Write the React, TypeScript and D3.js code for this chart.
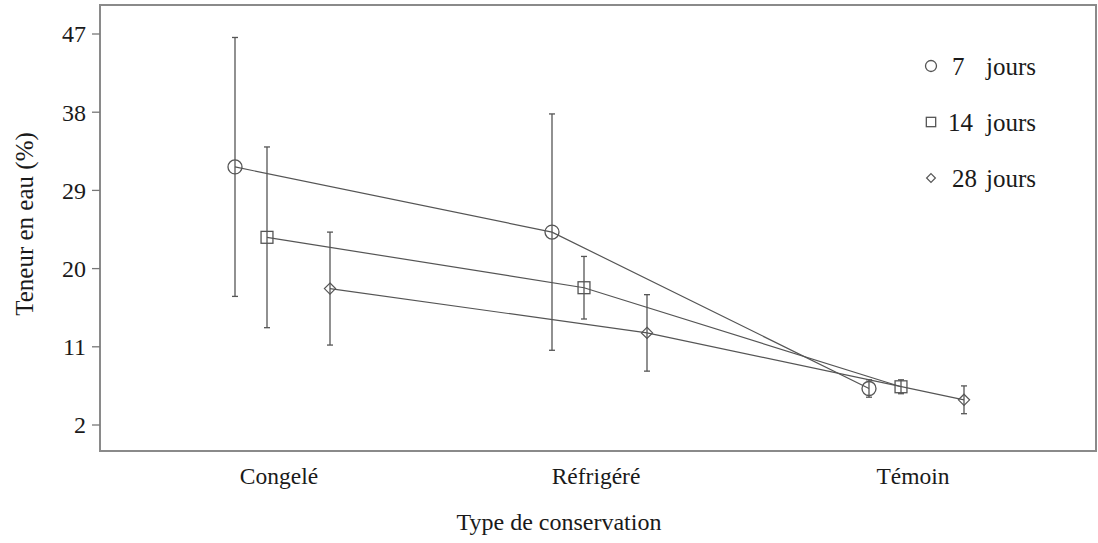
import React from "react";
import * as d3 from "d3";

// Storage conditions on the x axis
const categories = ["Congelé", "Réfrigéré", "Témoin"];

// Storage durations (days) and their marker shapes
const durations = [7, 14, 28];
const shapes = ["circle", "square", "diamond"];

// Mean water content (%) per duration, in category order
const means7 = [31.7, 24.2, 6.2];
const means14 = [23.6, 17.8, 6.4];
const means28 = [17.7, 12.6, 4.9];

// Half-width of the error bars (%)
const err7 = [14.9, 13.6, 1.0];
const err14 = [10.4, 3.6, 0.8];
const err28 = [6.5, 4.4, 1.6];

const yTicks = [2, 11, 20, 29, 38, 47];

const W = 1098;
const H = 543;
const FONT = "'Liberation Serif', 'Times New Roman', serif";
const INK = "#555";
const TEXT = "#1a1a1a";

const frame = { left: 100, top: 5, right: 1096, bottom: 451 };

const series = [
  { days: durations[0], shape: shapes[0], means: means7, errs: err7, dx: -44 },
  { days: durations[1], shape: shapes[1], means: means14, errs: err14, dx: -12 },
  { days: durations[2], shape: shapes[2], means: means28, errs: err28, dx: 51 },
];

function Marker({ shape, x, y, size }: { shape: string; x: number; y: number; size: number }) {
  if (shape === "circle") {
    return <circle cx={x} cy={y} r={size} fill="none" stroke={INK} strokeWidth={1.3} />;
  }
  if (shape === "square") {
    const s = size * 0.85;
    return <rect x={x - s} y={y - s} width={2 * s} height={2 * s} fill="none" stroke={INK} strokeWidth={1.3} />;
  }
  const s = size * 0.8;
  return (
    <path
      d={`M${x},${y - s}L${x + s},${y}L${x},${y + s}L${x - s},${y}Z`}
      fill="none"
      stroke={INK}
      strokeWidth={1.2}
    />
  );
}

export default function App() {
  const x = d3.scalePoint<string>().domain(categories).range([279, 913]);
  const y = d3.scaleLinear().domain([2, 47]).range([425, 34]);

  const line = d3
    .line<[number, number]>()
    .x((d) => d[0])
    .y((d) => d[1]);

  return (
    <svg
      width={W}
      height={H}
      style={{ position: "absolute", left: 0, top: 0, background: "#fff" }}
      fontFamily={FONT}
    >
      {/* plot frame */}
      <rect
        x={frame.left}
        y={frame.top}
        width={frame.right - frame.left}
        height={frame.bottom - frame.top}
        fill="none"
        stroke="#8a8a8a"
        strokeWidth={2}
      />

      {/* y axis ticks and labels */}
      {yTicks.map((t) => (
        <g key={t}>
          <line x1={frame.left - 8} x2={frame.left} y1={y(t)} y2={y(t)} stroke="#777" strokeWidth={1.3} />
          <text x={frame.left - 14} y={y(t)} dy="0.35em" textAnchor="end" fontSize={24} fill={TEXT}>
            {t}
          </text>
        </g>
      ))}
      <text
        transform={`translate(33,224) rotate(-90)`}
        textAnchor="middle"
        fontSize={25}
        fill={TEXT}
      >
        Teneur en eau (%)
      </text>

      {/* category labels */}
      {categories.map((c) => (
        <text key={c} x={x(c)} y={484} textAnchor="middle" fontSize={23.5} fill={TEXT}>
          {c}
        </text>
      ))}
      <text x={559} y={530} textAnchor="middle" fontSize={24} fill={TEXT}>
        Type de conservation
      </text>

      {/* connecting lines */}
      {series.map((s) => {
        const pts: [number, number][] = categories.map((c, i) => [(x(c) as number) + s.dx, y(s.means[i])]);
        return <path key={`l${s.days}`} d={line(pts) || ""} fill="none" stroke={INK} strokeWidth={1.2} />;
      })}

      {/* error bars */}
      {series.map((s) =>
        categories.map((c, i) => {
          const cx = (x(c) as number) + s.dx;
          const top = y(s.means[i] + s.errs[i]);
          const bot = y(s.means[i] - s.errs[i]);
          return (
            <g key={`e${s.days}${c}`} stroke={INK} strokeWidth={1.3}>
              <line x1={cx} x2={cx} y1={top} y2={bot} />
              <line x1={cx - 3} x2={cx + 3} y1={top} y2={top} />
              <line x1={cx - 3} x2={cx + 3} y1={bot} y2={bot} />
            </g>
          );
        })
      )}

      {/* markers */}
      {series.map((s) =>
        categories.map((c, i) => (
          <Marker key={`m${s.days}${c}`} shape={s.shape} x={(x(c) as number) + s.dx} y={y(s.means[i])} size={7} />
        ))
      )}

      {/* legend */}
      {series.map((s, i) => {
        const ly = 66 + i * 56;
        return (
          <g key={`lg${s.days}`}>
            <Marker shape={s.shape} x={931} y={ly} size={5.5} />
            <text x={s.days === 14 ? 948 : 952} y={ly} dy="0.35em" fontSize={25} fill={TEXT}>
              {s.days}
            </text>
            <text x={986} y={ly} dy="0.35em" fontSize={25} fill={TEXT}>
              jours
            </text>
          </g>
        );
      })}
    </svg>
  );
}
